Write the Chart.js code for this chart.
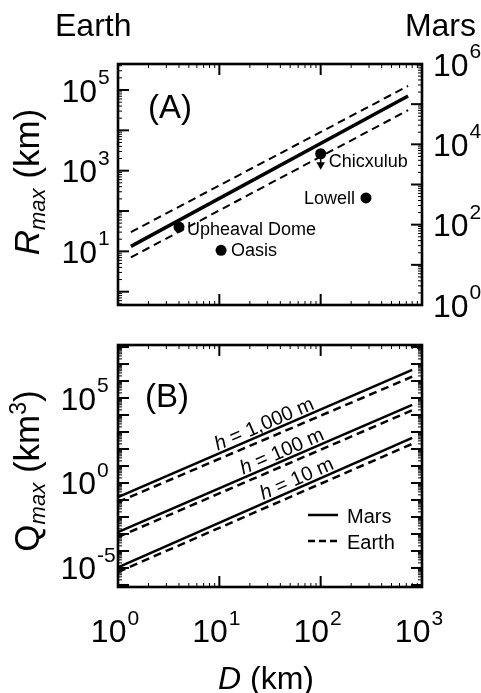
<!DOCTYPE html>
<html>
<head>
<meta charset="utf-8">
<script src="https://cdn.jsdelivr.net/npm/chart.js@4.4.0/dist/chart.umd.min.js"></script>
<style>
body { margin: 0; background: #fff; }
#wrapA { position: absolute; left: 0; top: 0; width: 481px; height: 320px; }
#wrapB { position: absolute; left: 0; top: 320px; width: 481px; height: 373px; }
</style>
</head>
<body>
<div id="wrapA"><canvas id="chartA"></canvas></div>
<div id="wrapB"><canvas id="chartB"></canvas></div>
<script>
// Panel A: maximum runout R_max vs crater diameter D
const dRangeA = [1.34, 729];
const rMaxMid = [13.3, 70800];
const rMaxHigh = [30, 126000];
const rMaxLow = [7.1, 31600];
const craterNames = ['Upheaval Dome', 'Oasis', 'Chicxulub', 'Lowell'];
const craterD = [4.0, 10.4, 100, 280];
const craterR = [40, 10.6, 2630, 211];
const chicxulubLimitR = 1400;
const xTickExp = [0, 1, 2, 3];
const earthTickExpA = [1, 3, 5];
const marsTickExpA = [0, 2, 4, 6];

// Panel B: maximum volume Q_max vs D for three heights
const dRangeB = [1, 800];
const hLabels = ['1,000', '100', '10'];
const qMars1000 = [0.15, 4.5e6];
const qEarth1000 = [0.076, 1.8e6];
const qMars100 = [1.3e-3, 3.9e4];
const qEarth100 = [6.6e-4, 1.9e4];
const qMars10 = [1.1e-5, 450];
const qEarth10 = [5.8e-6, 200];
const hLabelD = [30, 45, 63];
const qTickExpB = [-5, 0, 5];

const FONT = '"Liberation Sans", Arial, Helvetica, sans-serif';
Chart.defaults.font.family = FONT;

function pts(xs, ys) {
    return xs.map((x, i) => ({x: x, y: ys[i]}));
}

function lineSet(data, width, dash, axis) {
    return { data: data, showLine: true, pointRadius: 0, borderColor: '#000', borderWidth: width,
             borderDash: dash || [], yAxisID: axis || 'y', fill: false };
}

// draw text made of runs with their own font and baseline shift
function richWidth(ctx, parts) {
    let w = 0;
    parts.forEach(p => { ctx.font = p.font; w += ctx.measureText(p.t).width + (p.gap || 0); });
    return w;
}
function drawRich(ctx, parts, x, y) {
    ctx.textBaseline = 'alphabetic';
    ctx.textAlign = 'left';
    let cx = x;
    parts.forEach(p => {
        ctx.font = p.font;
        cx += (p.gap || 0);
        ctx.fillText(p.t, cx, y + (p.dy || 0));
        cx += ctx.measureText(p.t).width;
    });
}

function logTicks(sc) {
    const out = [];
    const k0 = Math.floor(Math.log10(sc.min)), k1 = Math.ceil(Math.log10(sc.max));
    for (let k = k0; k <= k1; k++) {
        for (let m = 1; m <= 9; m++) {
            const v = m * Math.pow(10, k);
            if (v > sc.min * 1.0001 && v < sc.max * 0.9999) out.push({v: v, major: m === 1});
        }
    }
    return out;
}

function drawFrame(chart, sides) {
    const ctx = chart.ctx, a = chart.chartArea;
    ctx.save();
    ctx.strokeStyle = '#000';
    sides.forEach(s => {
        const sc = chart.scales[s.id];
        logTicks(sc).forEach(t => {
            const p = sc.getPixelForValue(t.v);
            const len = t.major ? 11 : 4;
            ctx.lineWidth = t.major ? 2 : 1;
            ctx.beginPath();
            if (s.side === 'bottom') { ctx.moveTo(p, a.bottom); ctx.lineTo(p, a.bottom - len); }
            if (s.side === 'top') { ctx.moveTo(p, a.top); ctx.lineTo(p, a.top + len); }
            if (s.side === 'left') { ctx.moveTo(a.left, p); ctx.lineTo(a.left + len, p); }
            if (s.side === 'right') { ctx.moveTo(a.right, p); ctx.lineTo(a.right - len, p); }
            ctx.stroke();
        });
    });
    ctx.lineWidth = 2.6;
    ctx.strokeRect(a.left, a.top, a.width, a.height);
    ctx.restore();
}

const BIG = '32px ' + FONT;
const SUP = '21px ' + FONT;

function powParts(exp) {
    return [{t: '10', font: BIG}, {t: String(exp), font: SUP, dy: -17.5, gap: 1}];
}
// "10" right-aligned at x, exponent after it
function powLeft(ctx, exp, x, y) {
    ctx.font = BIG;
    const w = ctx.measureText('10').width;
    drawRich(ctx, powParts(exp), x - w, y + 11.5);
}
function powRight(ctx, exp, x, y) {
    drawRich(ctx, powParts(exp), x, y + 11.5);
}
function powCenter(ctx, exp, x, y) {
    const w = richWidth(ctx, powParts(exp));
    drawRich(ctx, powParts(exp), x - w / 2, y);
}

function drawYTitle(ctx, parts, x, y) {
    const w = richWidth(ctx, parts);
    ctx.save();
    ctx.translate(x, y);
    ctx.rotate(-Math.PI / 2);
    drawRich(ctx, parts, -w / 2, 0);
    ctx.restore();
}

const TITLE = '35px ' + FONT;
const TITLE_I = 'italic 35px ' + FONT;
const SUB_I = 'italic 22px ' + FONT;

const labelOffsets = [[8, 8, 'left'], [10, 6, 'left'], [8, 13, 'left'], [-11, 6, 'right']];

const decorA = {
    id: 'decorA',
    afterDraw(chart) {
        const ctx = chart.ctx;
        drawFrame(chart, [{id: 'x', side: 'bottom'}, {id: 'x', side: 'top'}, {id: 'y', side: 'left'}, {id: 'y2', side: 'right'}]);
        ctx.save();
        ctx.fillStyle = '#000';
        const sy = chart.scales.y, sy2 = chart.scales.y2;
        earthTickExpA.forEach(e => powLeft(ctx, e, 97, sy.getPixelForValue(Math.pow(10, e))));
        marsTickExpA.forEach(e => powRight(ctx, e, 433, sy2.getPixelForValue(Math.pow(10, e))));

        ctx.font = BIG;
        ctx.textBaseline = 'alphabetic';
        ctx.textAlign = 'left';
        ctx.fillText('Earth', 55, 36);
        ctx.textAlign = 'right';
        ctx.fillText('Mars', 476, 36);
        ctx.textAlign = 'left';
        ctx.font = '33px ' + FONT;
        ctx.fillText('(A)', 148, 118);

        drawYTitle(ctx, [{t: 'R', font: TITLE_I}, {t: 'max', font: SUB_I, dy: 6}, {t: ' (km)', font: TITLE}], 39, 182);

        // crater names next to their points
        const meta = chart.getDatasetMeta(4);
        ctx.font = '18px ' + FONT;
        craterNames.forEach((n, i) => {
            const el = meta.data[i];
            const o = labelOffsets[i];
            ctx.textAlign = o[2];
            ctx.fillText(n, el.x + o[0], el.y + o[1]);
        });
        ctx.restore();
    }
};

const decorB = {
    id: 'decorB',
    afterDraw(chart) {
        const ctx = chart.ctx;
        drawFrame(chart, [{id: 'x', side: 'bottom'}, {id: 'x', side: 'top'}, {id: 'y', side: 'left'}, {id: 'y', side: 'right'}]);
        ctx.save();
        ctx.fillStyle = '#000';
        ctx.strokeStyle = '#000';
        const sx = chart.scales.x, sy = chart.scales.y;
        qTickExpB.forEach(e => powLeft(ctx, e, 96, sy.getPixelForValue(Math.pow(10, e))));
        xTickExp.forEach(e => powCenter(ctx, e, sx.getPixelForValue(Math.pow(10, e)) - 3, 322));

        const parts = [{t: 'D', font: 'italic 32px ' + FONT}, {t: ' (km)', font: '32px ' + FONT}];
        drawRich(ctx, parts, 266 - richWidth(ctx, parts) / 2, 369);

        ctx.font = '33px ' + FONT;
        ctx.fillText('(B)', 145, 87);

        drawYTitle(ctx, [{t: 'Q', font: TITLE}, {t: 'max', font: SUB_I, dy: 6},
                         {t: ' (km', font: TITLE}, {t: '3', font: '23px ' + FONT, dy: -13}, {t: ')', font: TITLE}], 39, 151);

        // h labels rotated along the Mars lines
        const marsLines = [qMars1000, qMars100, qMars10];
        marsLines.forEach((q, i) => {
            const x1 = sx.getPixelForValue(dRangeB[0]), y1 = sy.getPixelForValue(q[0]);
            const x2 = sx.getPixelForValue(dRangeB[1]), y2 = sy.getPixelForValue(q[1]);
            const px = sx.getPixelForValue(hLabelD[i]);
            const py = y1 + (y2 - y1) * (px - x1) / (x2 - x1);
            const ang = Math.atan2(y2 - y1, x2 - x1);
            const lp = [{t: 'h', font: 'italic 20px ' + FONT}, {t: ' = ' + hLabels[i] + ' m', font: '20px ' + FONT}];
            const w = richWidth(ctx, lp);
            ctx.save();
            ctx.translate(px, py);
            ctx.rotate(ang);
            drawRich(ctx, lp, -w / 2, -3);
            ctx.restore();
        });

        // legend
        ctx.lineWidth = 2.5;
        ctx.beginPath(); ctx.moveTo(308, 195); ctx.lineTo(338, 195); ctx.stroke();
        ctx.setLineDash([7, 4]);
        ctx.beginPath(); ctx.moveTo(308, 221); ctx.lineTo(338, 221); ctx.stroke();
        ctx.setLineDash([]);
        ctx.font = '20px ' + FONT;
        ctx.textAlign = 'left';
        ctx.fillText('Mars', 347, 203);
        ctx.fillText('Earth', 347, 229);
        ctx.restore();
    }
};

const logAxis = (min, max, pos) => ({ type: 'logarithmic', min: min, max: max, display: false, position: pos });

new Chart(document.getElementById('chartA'), {
    type: 'scatter',
    data: { datasets: [
        lineSet(pts(dRangeA, rMaxHigh), 2, [8, 5]),
        lineSet(pts(dRangeA, rMaxMid), 3.5),
        lineSet(pts(dRangeA, rMaxLow), 2, [8, 5]),
        lineSet([{x: craterD[2], y: craterR[2]}, {x: craterD[2], y: chicxulubLimitR}], 1.5),
        { data: pts(craterD, craterR), pointRadius: 5.5, backgroundColor: '#000', borderWidth: 0 },
        { data: [{x: craterD[2], y: chicxulubLimitR}], pointStyle: 'triangle', rotation: 180,
          pointRadius: 5, backgroundColor: '#000', borderWidth: 0 }
    ]},
    options: {
        responsive: true, maintainAspectRatio: false, animation: false, events: [],
        layout: { padding: { left: 118, right: 59, top: 64, bottom: 15 } },
        plugins: { legend: { display: false }, tooltip: { enabled: false } },
        scales: {
            x: logAxis(1, 1000, 'bottom'),
            y: logAxis(Math.pow(10, -0.33), Math.pow(10, 5.645), 'left'),
            y2: logAxis(1, 1e6, 'right')
        }
    },
    plugins: [decorA]
});

new Chart(document.getElementById('chartB'), {
    type: 'scatter',
    data: { datasets: [
        lineSet(pts(dRangeB, qMars1000), 2.5),
        lineSet(pts(dRangeB, qEarth1000), 2.5, [8, 5]),
        lineSet(pts(dRangeB, qMars100), 2.5),
        lineSet(pts(dRangeB, qEarth100), 2.5, [8, 5]),
        lineSet(pts(dRangeB, qMars10), 2.5),
        lineSet(pts(dRangeB, qEarth10), 2.5, [8, 5])
    ]},
    options: {
        responsive: true, maintainAspectRatio: false, animation: false, events: [],
        layout: { padding: { left: 118, right: 59, top: 25, bottom: 106 } },
        plugins: { legend: { display: false }, tooltip: { enabled: false } },
        scales: {
            x: logAxis(1, 1000, 'bottom'),
            y: logAxis(Math.pow(10, -6.12), Math.pow(10, 8.12), 'left')
        }
    },
    plugins: [decorB]
});
</script>
</body>
</html>
